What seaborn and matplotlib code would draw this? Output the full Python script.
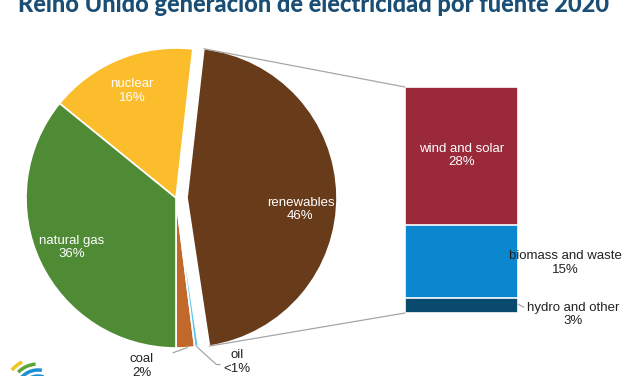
import numpy as np
import seaborn as sns
import matplotlib
matplotlib.use("Agg")
import matplotlib.pyplot as plt
from matplotlib.patches import ConnectionPatch, Arc

# pie data (percent of UK generation 2020), drawn counterclockwise from straight down
sources = ["coal", "oil", "renewables", "nuclear", "natural gas"]
shares = [2, 0.4, 46, 16, 36]
share_labels = ["2%", "<1%", "46%", "16%", "36%"]
pie_colors = ["#C0692B", "#5CC6EE", "#683B1A", "#FBBD2B", "#4E8B34"]

# breakdown of renewables
ren_parts = ["wind and solar", "biomass and waste", "hydro and other"]
ren_shares = [28, 15, 3]
ren_labels = ["28%", "15%", "3%"]
ren_colors = ["#9A2A3A", "#0A87CF", "#0B4A6F"]

title = "Reino Unido generación de electricidad por fuente 2020"

sns.set_theme(style="white")
plt.rcParams["font.family"] = ["Liberation Sans", "DejaVu Sans"]

fig = plt.figure(figsize=(6.27, 3.76), dpi=100)

# pie axis in pixel-like units (y up)
ax = fig.add_axes([0, 0, 1, 1])

R = 150
explode = [11 if s == "renewables" else 0 for s in sources]
inner = [f"{s}\n{p}" if s in ("renewables", "nuclear", "natural gas") else ""
         for s, p in zip(sources, share_labels)]
wedges, texts = ax.pie(shares, labels=inner, colors=pie_colors, startangle=270,
                       counterclock=True, explode=explode, center=(176, 178),
                       radius=R, labeldistance=0.77, frame=True,
                       wedgeprops=dict(edgecolor="white", linewidth=1.2),
                       textprops=dict(color="white", fontsize=9.5, ha="center",
                                      va="center", linespacing=1.15))
for s, t in zip(sources, texts):
    t.set_horizontalalignment("center")
    if s == "renewables":
        x, y = t.get_position()
        t.set_position((x - 2, y - 14))
ax.set_xlim(0, 627)
ax.set_ylim(0, 376)
ax.set_aspect("equal")
ax.axis("off")

# outside labels for the thin slices
def edge_point(w, frac=0.5, r=1.0):
    ang = np.deg2rad(w.theta1 + frac * (w.theta2 - w.theta1))
    cx, cy = w.center
    return cx + w.r * r * np.cos(ang), cy + w.r * r * np.sin(ang)

coal_w = wedges[sources.index("coal")]
oil_w = wedges[sources.index("oil")]
ax.annotate("coal\n2%", xy=edge_point(coal_w, 0.6), xytext=(142, 10),
            ha="center", va="center", fontsize=9.5, color="#222222",
            linespacing=1.15, annotation_clip=False,
            arrowprops=dict(arrowstyle="-", color="#A6A6A6", lw=0.9,
                            shrinkA=12, shrinkB=0, relpos=(1, 0.75)))
ax.annotate("oil\n<1%", xy=edge_point(oil_w, 0.5), xytext=(237, 14),
            ha="center", va="center", fontsize=9.5, color="#222222",
            linespacing=1.15, annotation_clip=False,
            arrowprops=dict(arrowstyle="-", color="#A6A6A6", lw=0.9,
                            shrinkA=0, shrinkB=0, relpos=(0, 0.4),
                            connectionstyle="arc,angleA=180,armA=7,angleB=0,armB=0,rad=0"))

# stacked bar for renewables
bx = fig.add_axes([405 / 627, (376 - 313) / 376, 113 / 627, 226 / 376])
total = sum(ren_shares)
tops = np.cumsum(ren_shares[::-1])[::-1]  # 46, 18, 3
for top, col in zip(tops, ren_colors):
    sns.barplot(x=["renewables"], y=[top], color=col, width=1, ax=bx,
                saturation=1, edgecolor="white", linewidth=1.2)
bx.set_xlim(-0.5, 0.5)
bx.set_ylim(0, total)
bx.axis("off")

mids = tops - np.array(ren_shares) / 2
bx.text(0, mids[0], f"{ren_parts[0]}\n{ren_labels[0]}", ha="center", va="center",
        color="white", fontsize=9.5, linespacing=1.15)
bx.text(0.92, mids[1] - 0.3, f"{ren_parts[1]}\n{ren_labels[1]}", ha="center",
        va="center", color="#222222", fontsize=9.5, linespacing=1.15, clip_on=False)
bx.annotate(f"{ren_parts[2]}\n{ren_labels[2]}", xy=(0.5, mids[2] + 0.3),
            xytext=(0.99, mids[2] - 1.8), ha="center", va="center",
            color="#222222", fontsize=9.5, linespacing=1.15, annotation_clip=False,
            arrowprops=dict(arrowstyle="-", color="#A6A6A6", lw=0.9,
                            shrinkA=0, shrinkB=0, relpos=(0, 0.72)))

# connector lines from exploded wedge to the bar
ren_w = wedges[sources.index("renewables")]
for frac, ytarget in [(1.0, total), (0.0, 0)]:
    con = ConnectionPatch(xyA=edge_point(ren_w, frac), coordsA=ax.transData,
                          xyB=(-0.5, ytarget), coordsB=bx.transData,
                          color="#A6A6A6", lw=0.9)
    fig.add_artist(con)

# title, cut at the top edge like the original
fig.text(0.5, 1 - 12 / 376, title, ha="center", va="baseline", fontsize=17,
         fontweight="black", color="#1B4E74", family=["Lato", "DejaVu Sans"])

# small logo arcs at bottom left
for r, col, t1, t2 in [(34, "#F6C21C", 118, 140), (28, "#5DA535", 95, 135),
                       (22, "#1A8FD4", 80, 150), (16, "#1A8FD4", 70, 160)]:
    ax.add_patch(Arc((38, -16), 2 * r, 2 * r, theta1=t1, theta2=t2, color=col,
                     lw=2.5, clip_on=False))

fig.savefig("out.png", dpi=100)
